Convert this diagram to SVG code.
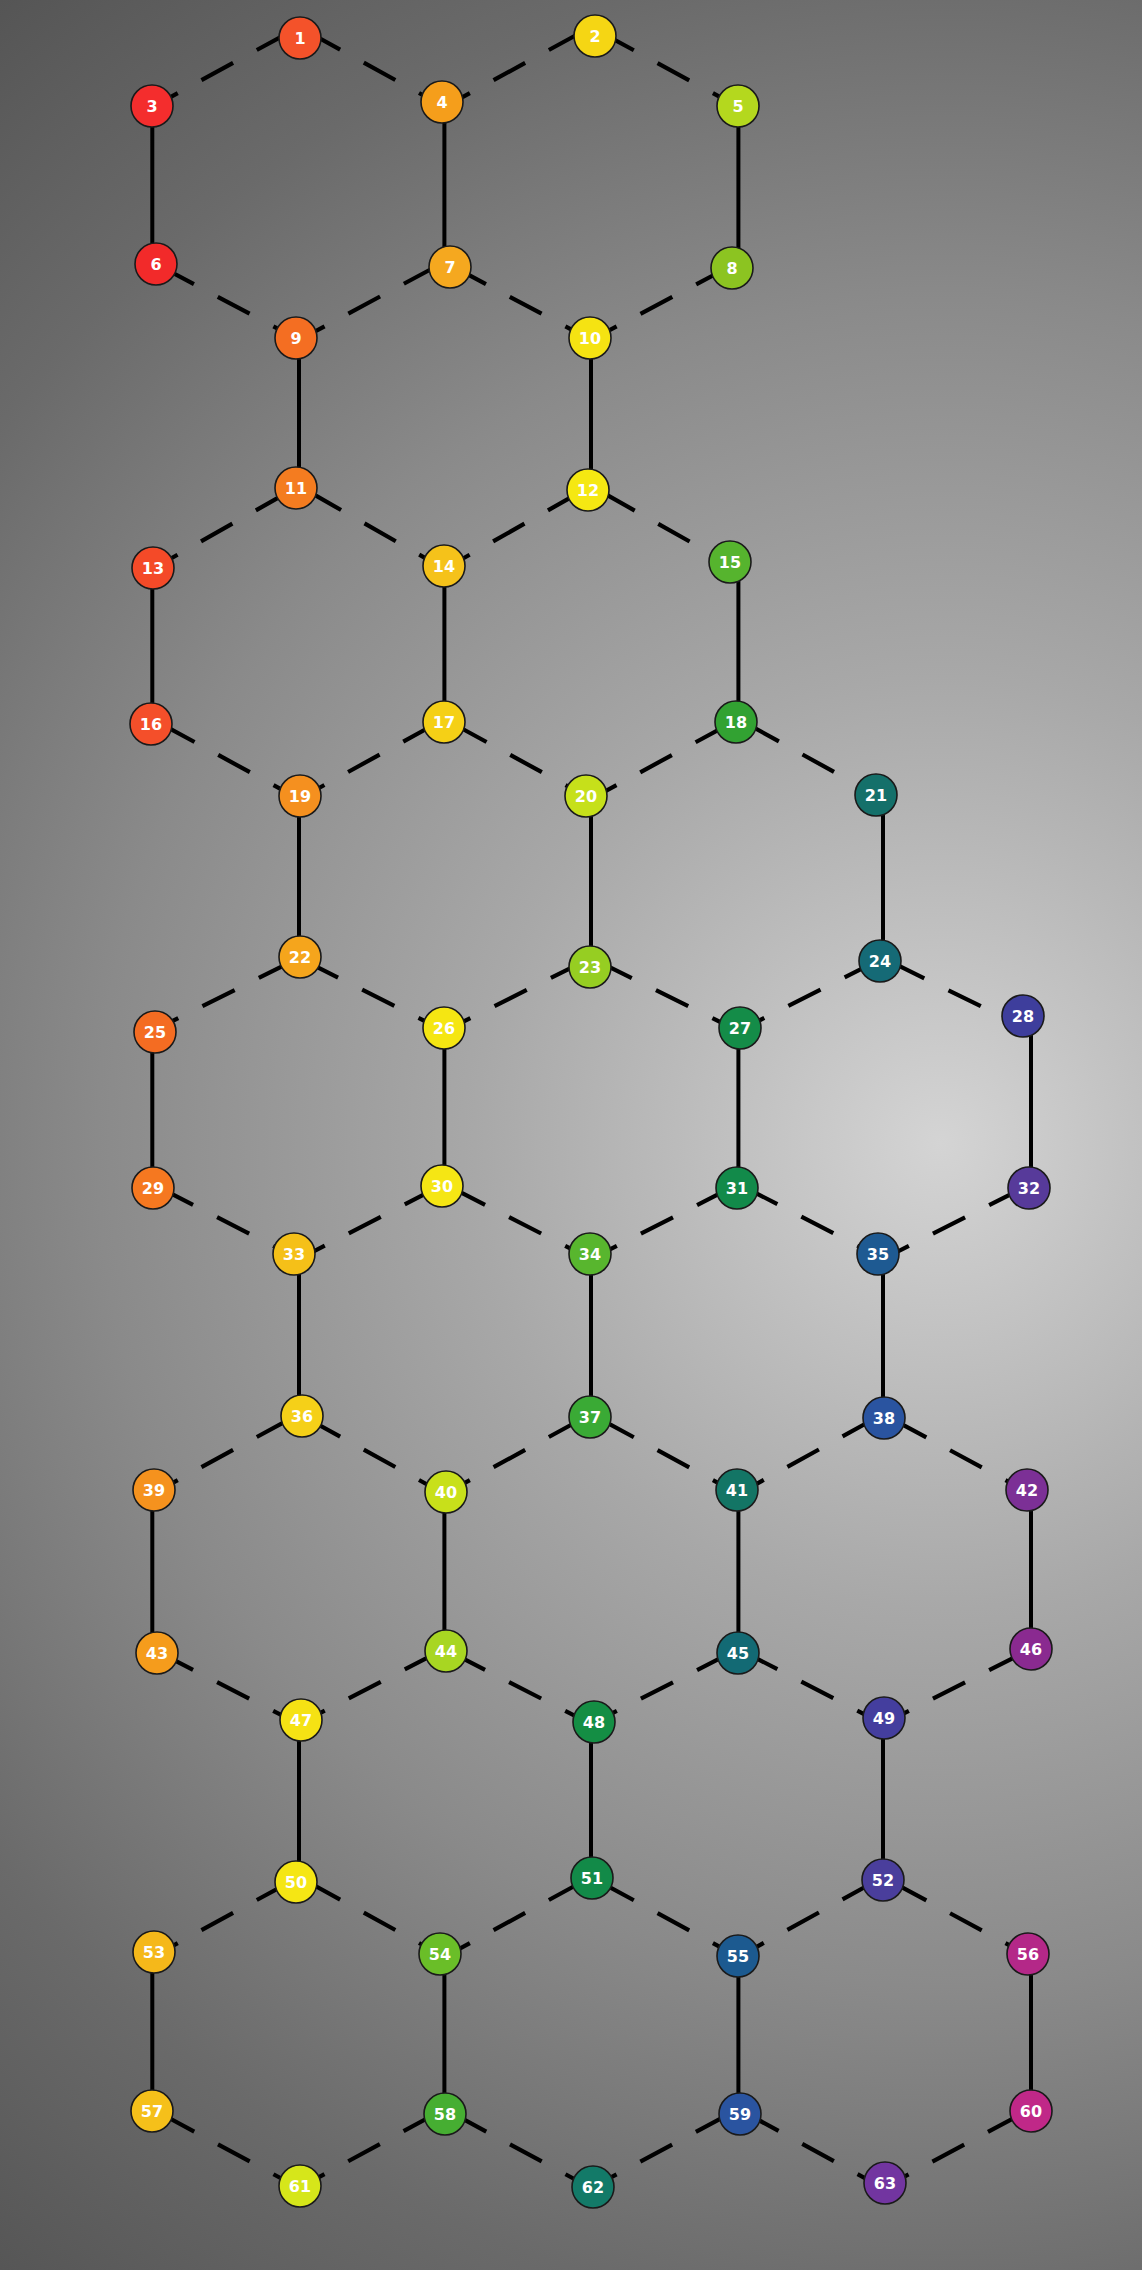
<svg xmlns="http://www.w3.org/2000/svg" width="1142" height="2270" viewBox="0 0 1142 2270">
<defs>
<radialGradient id="bg" gradientUnits="userSpaceOnUse" cx="941" cy="1143" r="1480">
<stop offset="0" stop-color="#d4d4d4"/>
<stop offset="0.315" stop-color="#a8a8a8"/>
<stop offset="0.57" stop-color="#8a8a8a"/>
<stop offset="0.8" stop-color="#6a6a6a"/>
<stop offset="1" stop-color="#555555"/>
</radialGradient>
<style>
.s{stroke:#000;stroke-width:4;fill:none}
.d{stroke:#000;stroke-width:4.2;fill:none;stroke-dasharray:36 27;stroke-dashoffset:7}
.n circle{stroke:#1a1a1a;stroke-width:1.6}
.n text{font-family:"DejaVu Sans",sans-serif;font-weight:bold;font-size:16px;fill:#fff;text-anchor:middle}
</style>
</defs>
<rect width="1142" height="2270" fill="url(#bg)"/>
<g id="edges">
<line class="d" x1="152.3" y1="107" x2="299" y2="27"/>
<line class="d" x1="444.4" y1="107" x2="299" y2="27"/>
<line class="d" x1="444.4" y1="107" x2="591" y2="27"/>
<line class="d" x1="738.4" y1="107" x2="591" y2="27"/>
<line class="d" x1="299" y1="340" x2="152.3" y2="262"/>
<line class="d" x1="299" y1="340" x2="444.4" y2="262"/>
<line class="d" x1="591" y1="340" x2="444.4" y2="262"/>
<line class="d" x1="591" y1="340" x2="738.4" y2="262"/>
<line class="d" x1="152.3" y1="569" x2="299" y2="486"/>
<line class="d" x1="444.4" y1="569" x2="299" y2="486"/>
<line class="d" x1="444.4" y1="569" x2="591" y2="486"/>
<line class="d" x1="738.4" y1="569" x2="591" y2="486"/>
<line class="d" x1="299" y1="799" x2="152.3" y2="719"/>
<line class="d" x1="299" y1="799" x2="444.4" y2="719"/>
<line class="d" x1="591" y1="799" x2="444.4" y2="719"/>
<line class="d" x1="591" y1="799" x2="738.4" y2="719"/>
<line class="d" x1="883" y1="799" x2="738.4" y2="719"/>
<line class="d" x1="152.3" y1="1031" x2="299" y2="958"/>
<line class="d" x1="444.4" y1="1031" x2="299" y2="958"/>
<line class="d" x1="444.4" y1="1031" x2="591" y2="958"/>
<line class="d" x1="738.4" y1="1031" x2="591" y2="958"/>
<line class="d" x1="738.4" y1="1031" x2="883" y2="958"/>
<line class="d" x1="1031" y1="1031" x2="883" y2="958"/>
<line class="d" x1="299" y1="1259" x2="152.3" y2="1184"/>
<line class="d" x1="299" y1="1259" x2="444.4" y2="1184"/>
<line class="d" x1="591" y1="1259" x2="444.4" y2="1184"/>
<line class="d" x1="591" y1="1259" x2="738.4" y2="1184"/>
<line class="d" x1="883" y1="1259" x2="738.4" y2="1184"/>
<line class="d" x1="883" y1="1259" x2="1031" y2="1184"/>
<line class="d" x1="152.3" y1="1494" x2="299" y2="1414"/>
<line class="d" x1="444.4" y1="1494" x2="299" y2="1414"/>
<line class="d" x1="444.4" y1="1494" x2="591" y2="1414"/>
<line class="d" x1="738.4" y1="1494" x2="591" y2="1414"/>
<line class="d" x1="738.4" y1="1494" x2="883" y2="1414"/>
<line class="d" x1="1031" y1="1494" x2="883" y2="1414"/>
<line class="d" x1="299" y1="1724" x2="152.3" y2="1649"/>
<line class="d" x1="299" y1="1724" x2="444.4" y2="1649"/>
<line class="d" x1="591" y1="1724" x2="444.4" y2="1649"/>
<line class="d" x1="591" y1="1724" x2="738.4" y2="1649"/>
<line class="d" x1="883" y1="1724" x2="738.4" y2="1649"/>
<line class="d" x1="883" y1="1724" x2="1031" y2="1649"/>
<line class="d" x1="152.3" y1="1957" x2="299" y2="1877"/>
<line class="d" x1="444.4" y1="1957" x2="299" y2="1877"/>
<line class="d" x1="444.4" y1="1957" x2="591" y2="1877"/>
<line class="d" x1="738.4" y1="1957" x2="591" y2="1877"/>
<line class="d" x1="738.4" y1="1957" x2="883" y2="1877"/>
<line class="d" x1="1031" y1="1957" x2="883" y2="1877"/>
<line class="d" x1="299" y1="2188" x2="152.3" y2="2109"/>
<line class="d" x1="299" y1="2188" x2="444.4" y2="2109"/>
<line class="d" x1="591" y1="2188" x2="444.4" y2="2109"/>
<line class="d" x1="591" y1="2188" x2="738.4" y2="2109"/>
<line class="d" x1="883" y1="2188" x2="738.4" y2="2109"/>
<line class="d" x1="883" y1="2188" x2="1031" y2="2109"/>
<line class="s" x1="152.3" y1="104" x2="152.3" y2="265"/>
<line class="s" x1="444.4" y1="104" x2="444.4" y2="265"/>
<line class="s" x1="738.4" y1="104" x2="738.4" y2="265"/>
<line class="s" x1="299" y1="337" x2="299" y2="489"/>
<line class="s" x1="591" y1="337" x2="591" y2="489"/>
<line class="s" x1="152.3" y1="566" x2="152.3" y2="722"/>
<line class="s" x1="444.4" y1="566" x2="444.4" y2="722"/>
<line class="s" x1="738.4" y1="566" x2="738.4" y2="722"/>
<line class="s" x1="299" y1="796" x2="299" y2="961"/>
<line class="s" x1="591" y1="796" x2="591" y2="961"/>
<line class="s" x1="883" y1="796" x2="883" y2="961"/>
<line class="s" x1="152.3" y1="1028" x2="152.3" y2="1187"/>
<line class="s" x1="444.4" y1="1028" x2="444.4" y2="1187"/>
<line class="s" x1="738.4" y1="1028" x2="738.4" y2="1187"/>
<line class="s" x1="1031" y1="1028" x2="1031" y2="1187"/>
<line class="s" x1="299" y1="1256" x2="299" y2="1417"/>
<line class="s" x1="591" y1="1256" x2="591" y2="1417"/>
<line class="s" x1="883" y1="1256" x2="883" y2="1417"/>
<line class="s" x1="152.3" y1="1491" x2="152.3" y2="1652"/>
<line class="s" x1="444.4" y1="1491" x2="444.4" y2="1652"/>
<line class="s" x1="738.4" y1="1491" x2="738.4" y2="1652"/>
<line class="s" x1="1031" y1="1491" x2="1031" y2="1652"/>
<line class="s" x1="299" y1="1721" x2="299" y2="1880"/>
<line class="s" x1="591" y1="1721" x2="591" y2="1880"/>
<line class="s" x1="883" y1="1721" x2="883" y2="1880"/>
<line class="s" x1="152.3" y1="1954" x2="152.3" y2="2112"/>
<line class="s" x1="444.4" y1="1954" x2="444.4" y2="2112"/>
<line class="s" x1="738.4" y1="1954" x2="738.4" y2="2112"/>
<line class="s" x1="1031" y1="1954" x2="1031" y2="2112"/>
</g>
<g id="n1" class="n"><circle cx="300" cy="38" r="21" fill="#f4522a"/><text x="300" y="43.8">1</text></g>
<g id="n2" class="n"><circle cx="595" cy="36" r="21" fill="#f5d614"/><text x="595" y="41.8">2</text></g>
<g id="n3" class="n"><circle cx="152" cy="106" r="21" fill="#f42d2d"/><text x="152" y="111.8">3</text></g>
<g id="n4" class="n"><circle cx="442" cy="102" r="21" fill="#f59e1b"/><text x="442" y="107.8">4</text></g>
<g id="n5" class="n"><circle cx="738" cy="106" r="21" fill="#b4d81e"/><text x="738" y="111.8">5</text></g>
<g id="n6" class="n"><circle cx="156" cy="264" r="21" fill="#f22a2a"/><text x="156" y="269.8">6</text></g>
<g id="n7" class="n"><circle cx="450" cy="267" r="21" fill="#f5a81f"/><text x="450" y="272.8">7</text></g>
<g id="n8" class="n"><circle cx="732" cy="268" r="21" fill="#8cc421"/><text x="732" y="273.8">8</text></g>
<g id="n9" class="n"><circle cx="296" cy="338" r="21" fill="#f46e22"/><text x="296" y="343.8">9</text></g>
<g id="n10" class="n"><circle cx="590" cy="338" r="21" fill="#f5e312"/><text x="590" y="343.8">10</text></g>
<g id="n11" class="n"><circle cx="296" cy="488" r="21" fill="#f47c20"/><text x="296" y="493.8">11</text></g>
<g id="n12" class="n"><circle cx="588" cy="490" r="21" fill="#f5e812"/><text x="588" y="495.8">12</text></g>
<g id="n13" class="n"><circle cx="153" cy="568" r="21" fill="#f44a28"/><text x="153" y="573.8">13</text></g>
<g id="n14" class="n"><circle cx="444" cy="566" r="21" fill="#f5c21a"/><text x="444" y="571.8">14</text></g>
<g id="n15" class="n"><circle cx="730" cy="562" r="21" fill="#56b42e"/><text x="730" y="567.8">15</text></g>
<g id="n16" class="n"><circle cx="151" cy="724" r="21" fill="#f44f2a"/><text x="151" y="729.8">16</text></g>
<g id="n17" class="n"><circle cx="444" cy="722" r="21" fill="#f5d016"/><text x="444" y="727.8">17</text></g>
<g id="n18" class="n"><circle cx="736" cy="722" r="21" fill="#32a232"/><text x="736" y="727.8">18</text></g>
<g id="n19" class="n"><circle cx="300" cy="796" r="21" fill="#f5901f"/><text x="300" y="801.8">19</text></g>
<g id="n20" class="n"><circle cx="586" cy="796" r="21" fill="#c6e01a"/><text x="586" y="801.8">20</text></g>
<g id="n21" class="n"><circle cx="876" cy="795" r="21" fill="#14706a"/><text x="876" y="800.8">21</text></g>
<g id="n22" class="n"><circle cx="300" cy="957" r="21" fill="#f5a51c"/><text x="300" y="962.8">22</text></g>
<g id="n23" class="n"><circle cx="590" cy="967" r="21" fill="#96ce22"/><text x="590" y="972.8">23</text></g>
<g id="n24" class="n"><circle cx="880" cy="961" r="21" fill="#156a76"/><text x="880" y="966.8">24</text></g>
<g id="n25" class="n"><circle cx="155" cy="1032" r="21" fill="#f46c22"/><text x="155" y="1037.8">25</text></g>
<g id="n26" class="n"><circle cx="444" cy="1028" r="21" fill="#f5e612"/><text x="444" y="1033.8">26</text></g>
<g id="n27" class="n"><circle cx="740" cy="1028" r="21" fill="#148c48"/><text x="740" y="1033.8">27</text></g>
<g id="n28" class="n"><circle cx="1023" cy="1016" r="21" fill="#3e3e9c"/><text x="1023" y="1021.8">28</text></g>
<g id="n29" class="n"><circle cx="153" cy="1188" r="21" fill="#f57820"/><text x="153" y="1193.8">29</text></g>
<g id="n30" class="n"><circle cx="442" cy="1186" r="21" fill="#f5e614"/><text x="442" y="1191.8">30</text></g>
<g id="n31" class="n"><circle cx="737" cy="1188" r="21" fill="#128a4a"/><text x="737" y="1193.8">31</text></g>
<g id="n32" class="n"><circle cx="1029" cy="1188" r="21" fill="#573a9a"/><text x="1029" y="1193.8">32</text></g>
<g id="n33" class="n"><circle cx="294" cy="1254" r="21" fill="#f5c018"/><text x="294" y="1259.8">33</text></g>
<g id="n34" class="n"><circle cx="590" cy="1254" r="21" fill="#58b62e"/><text x="590" y="1259.8">34</text></g>
<g id="n35" class="n"><circle cx="878" cy="1254" r="21" fill="#1e5a92"/><text x="878" y="1259.8">35</text></g>
<g id="n36" class="n"><circle cx="302" cy="1416" r="21" fill="#f5d018"/><text x="302" y="1421.8">36</text></g>
<g id="n37" class="n"><circle cx="590" cy="1417" r="21" fill="#3aaa35"/><text x="590" y="1422.8">37</text></g>
<g id="n38" class="n"><circle cx="884" cy="1418" r="21" fill="#2a54a0"/><text x="884" y="1423.8">38</text></g>
<g id="n39" class="n"><circle cx="154" cy="1490" r="21" fill="#f5921e"/><text x="154" y="1495.8">39</text></g>
<g id="n40" class="n"><circle cx="446" cy="1492" r="21" fill="#c8e01a"/><text x="446" y="1497.8">40</text></g>
<g id="n41" class="n"><circle cx="737" cy="1490" r="21" fill="#137565"/><text x="737" y="1495.8">41</text></g>
<g id="n42" class="n"><circle cx="1027" cy="1490" r="21" fill="#7c3096"/><text x="1027" y="1495.8">42</text></g>
<g id="n43" class="n"><circle cx="157" cy="1653" r="21" fill="#f59c1c"/><text x="157" y="1658.8">43</text></g>
<g id="n44" class="n"><circle cx="446" cy="1651" r="21" fill="#a8d622"/><text x="446" y="1656.8">44</text></g>
<g id="n45" class="n"><circle cx="738" cy="1653" r="21" fill="#136a74"/><text x="738" y="1658.8">45</text></g>
<g id="n46" class="n"><circle cx="1031" cy="1649" r="21" fill="#8a2a90"/><text x="1031" y="1654.8">46</text></g>
<g id="n47" class="n"><circle cx="301" cy="1720" r="21" fill="#f5e214"/><text x="301" y="1725.8">47</text></g>
<g id="n48" class="n"><circle cx="594" cy="1722" r="21" fill="#148e44"/><text x="594" y="1727.8">48</text></g>
<g id="n49" class="n"><circle cx="884" cy="1718" r="21" fill="#443e9e"/><text x="884" y="1723.8">49</text></g>
<g id="n50" class="n"><circle cx="296" cy="1882" r="21" fill="#f5e614"/><text x="296" y="1887.8">50</text></g>
<g id="n51" class="n"><circle cx="592" cy="1878" r="21" fill="#128a48"/><text x="592" y="1883.8">51</text></g>
<g id="n52" class="n"><circle cx="883" cy="1880" r="21" fill="#4a3e9c"/><text x="883" y="1885.8">52</text></g>
<g id="n53" class="n"><circle cx="154" cy="1952" r="21" fill="#f5b81a"/><text x="154" y="1957.8">53</text></g>
<g id="n54" class="n"><circle cx="440" cy="1954" r="21" fill="#6abe28"/><text x="440" y="1959.8">54</text></g>
<g id="n55" class="n"><circle cx="738" cy="1956" r="21" fill="#1c5a90"/><text x="738" y="1961.8">55</text></g>
<g id="n56" class="n"><circle cx="1028" cy="1954" r="21" fill="#b42888"/><text x="1028" y="1959.8">56</text></g>
<g id="n57" class="n"><circle cx="152" cy="2111" r="21" fill="#f5c01a"/><text x="152" y="2116.8">57</text></g>
<g id="n58" class="n"><circle cx="445" cy="2114" r="21" fill="#46ae32"/><text x="445" y="2119.8">58</text></g>
<g id="n59" class="n"><circle cx="740" cy="2114" r="21" fill="#2a54a0"/><text x="740" y="2119.8">59</text></g>
<g id="n60" class="n"><circle cx="1031" cy="2111" r="21" fill="#c02888"/><text x="1031" y="2116.8">60</text></g>
<g id="n61" class="n"><circle cx="300" cy="2186" r="21" fill="#d6e61a"/><text x="300" y="2191.8">61</text></g>
<g id="n62" class="n"><circle cx="593" cy="2187" r="21" fill="#137a68"/><text x="593" y="2192.8">62</text></g>
<g id="n63" class="n"><circle cx="885" cy="2183" r="21" fill="#7235a0"/><text x="885" y="2188.8">63</text></g>
</svg>
